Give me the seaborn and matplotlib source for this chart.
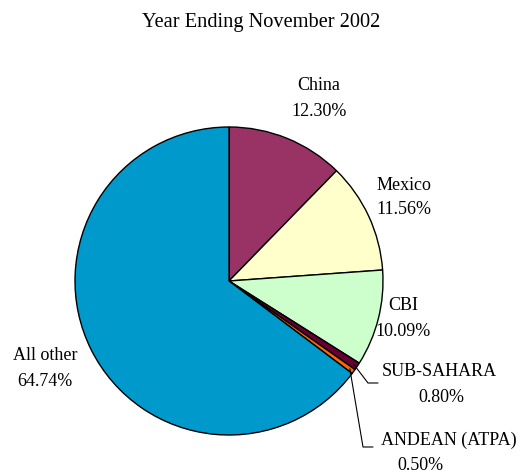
import numpy as np
import seaborn as sns
import matplotlib.pyplot as plt

## Data
regions = ['China', 'Mexico', 'CBI', 'SUB-SAHARA', 'ANDEAN (ATPA)', 'All other']
shares = [12.30, 11.56, 10.09, 0.80, 0.50, 64.74]
colors = ['#993366', '#FFFFCC', '#CCFFCC', '#660033', '#FF6600', '#0099CC']

sns.set_style('white')
plt.rcParams['font.family'] = ['Liberation Serif', 'DejaVu Serif']
plt.rcParams['text.color'] = 'black'

# axes in pixel units, y measured upward
W, H = 523, 474
fig = plt.figure(figsize=(W / 100, H / 100), dpi=100)
ax = fig.add_axes([0, 0, 1, 1])

cx, cy, r = 229, H - 281, 154
wedges, _ = ax.pie(shares, colors=colors, startangle=90, counterclock=False,
                   center=(cx, cy), radius=r, frame=True,
                   wedgeprops={'edgecolor': 'black', 'linewidth': 1})
ax.set_xlim(0, W)
ax.set_ylim(0, H)
ax.axis('off')

ax.text(261, H - 22, 'Year Ending November 2002', ha='center', va='center', fontsize=14.7)

# label positions (pixel coords, top-down): name, then percentage
label_pos = {
    'China': ((319, 85), (319, 111)),
    'Mexico': ((404, 185), (404, 209)),
    'CBI': ((403, 305), (403, 331)),
    'SUB-SAHARA': ((439, 371), (441, 397)),
    'ANDEAN (ATPA)': ((449, 440), (420, 466)),
    'All other': ((45, 356), (45, 382)),
}
for name, val in zip(regions, shares):
    (x1, y1), (x2, y2) = label_pos[name]
    ax.text(x1, H - y1, name, ha='center', va='center', fontsize=13)
    ax.text(x2, H - y2, f'{val:.2f}%', ha='center', va='center', fontsize=13)

# leader lines for the thin slices
def edge_point(w, frac=1.0):
    ang = np.deg2rad((w.theta1 + w.theta2) / 2)
    return cx + frac * r * np.cos(ang), cy + frac * r * np.sin(ang)

sx, sy = edge_point(wedges[3], 0.97)
ax.plot([sx, 368, 378], [sy, H - 383, H - 383], color='black', lw=0.8)
px, py = edge_point(wedges[4], 0.97)
ax.plot([px, 363, 373], [py, H - 447, H - 447], color='black', lw=0.8)

fig.savefig('out.png', dpi=100)
